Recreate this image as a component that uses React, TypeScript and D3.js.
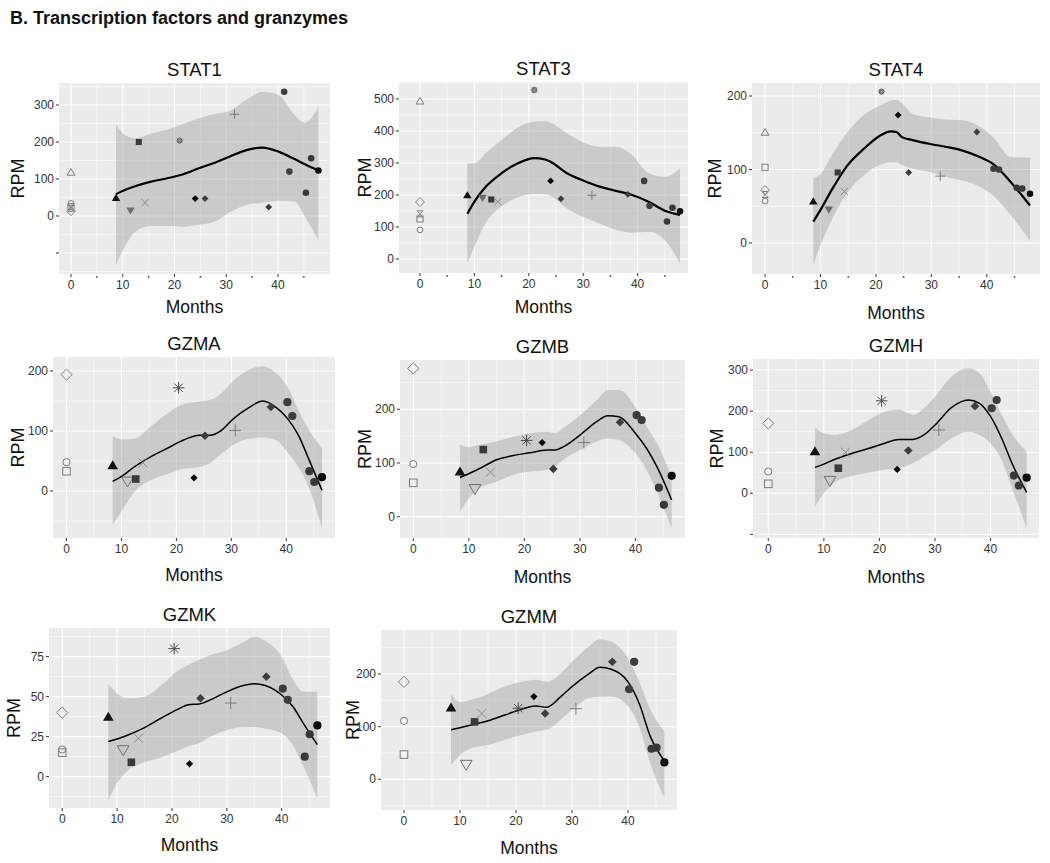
import * as d3 from 'd3';

// Transcription factors and granzymes: RPM over months, loess fit with 95% band

// months of the 14 patient samples (controls sit at month 0)
const statMonths = [8.7, 11.5, 13.1, 14.3, 21.0, 24.0, 25.9, 31.6, 38.2, 41.2, 42.2, 45.4, 46.4, 47.8];
const gzmMonths = [8.4, 11.1, 12.6, 13.9, 20.4, 23.2, 25.2, 30.7, 37.2, 40.2, 41.1, 44.2, 45.1, 46.5];

const statShapes = ['triangle', 'triDownFilled', 'square', 'x', 'asteriskDot', 'diamond', 'diamond', 'plus', 'diamond', 'circle', 'circle', 'circle', 'circle', 'circle'];
const gzmShapes = ['triangle', 'triDown', 'square', 'x', 'asterisk', 'diamondSmall', 'diamond', 'plus', 'diamond', 'circle', 'circle', 'circle', 'circle', 'circle'];
const patientTones = ['#111111', '#6e6e6e', '#3a3a3a', '#8a8a8a', '#4a4a4a', '#050505', '#3d3d3d', '#7a7a7a', '#3d3d3d', '#3d3d3d', '#3d3d3d', '#383838', '#383838', '#0d0d0d'];
const statControlShapes = ['triangleOpen', 'diamondOpen', 'hourglass', 'squareOpen', 'circleOpen'];
const gzmControlShapes = ['diamondOpen', 'circleOpen', 'squareOpen'];
const controlTone = '#7d7d7d';

// RPM of patient samples
const stat1Values = [48, 16, 200, 36, 204, 47, 47, 275, 24, 336, 120, 63, 156, 123];
const stat3Values = [198, 192, 186, 179, 528, 244, 188, 199, 202, 244, 166, 117, 160, 149];
const stat4Values = [56, 46, 96, 70, 206, 174, 96, 91, 151, 101, 100, 75, 74, 67];
const gzmaValues = [42, 17, 20, 47, 172, 22, 92, 101, 140, 148, 125, 33, 15, 23];
const gzmbValues = [83, 53, 125, 83, 142, 138, 89, 138, 176, 189, 180, 54, 22, 76];
const gzmhValues = [101, 32, 61, 100, 225, 58, 104, 154, 212, 207, 227, 43, 19, 38];
const gzmkValues = [37, 17, 9, 24, 80, 8, 49, 46, 62.5, 55, 48, 12.5, 26.5, 32];
const gzmmValues = [135, 29, 109, 125, 135, 157, 125, 134, 223, 171, 223, 58, 60, 32];

// RPM of controls at month 0
const stat1Controls = [117, 13, 21, 25, 34];
const stat3Controls = [492, 178, 141, 125, 91];
const stat4Controls = [150, 72, 66, 103, 57];
const gzmaControls = [194, 48, 33];
const gzmbControls = [276, 98, 63];
const gzmhControls = [170, 53, 23];
const gzmkControls = [40, 17, 15];
const gzmmControls = [185, 111, 47];

// smooth fit and confidence band, read along each panel's month grid
const stat1Grid = [8.7, 10.4, 12.5, 15.5, 18.6, 21.7, 24.7, 27.8, 30.9, 33.9, 37.0, 40.1, 43.2, 45.2, 47.8];
const stat1Fit = [59, 70, 81, 93, 102, 113, 129, 144, 162, 178, 185, 174, 154, 140, 123];
const stat1Upper = [249, 219, 210, 223, 234, 249, 264, 276, 286, 314, 336, 327, 273, 252, 295];
const stat1Lower = [-132, -83, -42, -27, -27, -29, -24, -15, 12, 30, 36, 41, 39, -2, -65];

const stat3Grid = [8.7, 10, 12, 15, 18, 21, 23, 24, 27, 30, 33, 36, 39, 42, 45, 47.8];
const stat3Fit = [141, 179, 224, 268, 299, 315, 311, 304, 268, 245, 226, 213, 200, 179, 151, 138];
const stat3Upper = [299, 299, 330, 372, 411, 429, 430, 426, 393, 364, 351, 351, 325, 268, 257, 283];
const stat3Lower = [-14, 39, 111, 164, 193, 203, 202, 197, 158, 132, 111, 91, 82, 85, 59, -14];

const stat4Grid = [8.7, 10.0, 12.0, 14.9, 17.8, 20.7, 22.7, 23.7, 24.7, 26.6, 29.6, 32.5, 35.5, 38.4, 41.4, 44.3, 47.8];
const stat4Fit = [29, 45, 72, 106, 128, 146, 152, 151, 144, 140, 135, 131, 126, 118, 106, 83, 51];
const stat4Upper = [88, 94, 119, 151, 174, 187, 194, 195, 190, 176, 171, 168, 167, 160, 142, 117, 116];
const stat4Lower = [-30, -3, 31, 69, 92, 106, 110, 110, 106, 101, 97, 90, 85, 78, 63, 38, 3];

const gzmaGrid = [8.4, 10.3, 12.3, 15.3, 18.3, 21.3, 24.2, 26.2, 28.2, 30.2, 33.2, 35.7, 38.2, 40.2, 42.2, 44.2, 46.5];
const gzmaFit = [16, 26, 40, 57, 71, 85, 93, 93, 101, 119, 139, 150, 139, 121, 93, 51, 1];
const gzmaUpper = [91, 86, 87, 107, 129, 145, 149, 152, 163, 182, 202, 208, 196, 174, 135, 101, 72];
const gzmaLower = [-56, -30, -2, 18, 28, 37, 40, 47, 62, 76, 87, 89, 84, 65, 40, 4, -63];

const gzmbGrid = [8.4, 10, 12, 15, 18, 21, 24, 25.5, 27, 30, 33, 35, 37, 40, 42, 44, 46.5];
const gzmbFit = [73, 80, 90, 106, 114, 119, 124, 124, 130, 152, 177, 188, 186, 155, 127, 90, 31];
const gzmbUpper = [134, 130, 134, 140, 149, 155, 158, 155, 165, 189, 217, 236, 236, 204, 168, 134, 75];
const gzmbLower = [9, 34, 53, 65, 78, 84, 87, 93, 106, 124, 140, 146, 143, 118, 87, 43, -22];

const gzmhGrid = [8.4, 10, 12, 15, 18, 21, 23.5, 26, 28, 30, 33, 36, 38, 40, 42, 44, 46.5];
const gzmhFit = [63, 71, 83, 97, 109, 122, 131, 131, 142, 166, 209, 227, 219, 187, 134, 69, 2];
const gzmhUpper = [161, 146, 142, 154, 178, 199, 204, 191, 207, 235, 284, 304, 292, 247, 191, 142, 101];
const gzmhLower = [-32, 0, 27, 42, 50, 57, 61, 73, 89, 105, 134, 150, 142, 122, 81, 8, -85];

const gzmkGrid = [8.4, 10, 12, 15, 18, 21, 23, 25, 27, 30, 33, 35, 37, 40, 42, 44, 46.5];
const gzmkFit = [22, 23.5, 26, 30.6, 36.5, 42, 45, 45.4, 48, 53, 57, 58, 57, 51, 44, 33, 20];
const gzmkUpper = [58, 52, 49, 50, 57, 66, 70, 73, 76, 79, 84, 87.5, 85, 75, 61, 53, 53];
const gzmkLower = [-15, -4, 4, 9, 12, 16, 19, 21, 25, 29, 31, 31, 30, 27, 20, 6, -13.5];

const gzmmGrid = [8.4, 10, 12, 15, 18, 21, 23.5, 25.5, 28, 30, 33, 35, 37, 40, 42, 44, 46.5];
const gzmmFit = [94, 98, 103, 111, 122, 133, 139, 137, 157, 176, 200, 213, 209, 185, 144, 81, 35];
const gzmmUpper = [162, 147, 151, 162, 176, 185, 189, 185, 201, 223, 252, 266, 261, 230, 185, 132, 91];
const gzmmLower = [27, 46, 59, 65, 75, 84, 91, 94, 113, 132, 154, 157, 157, 139, 100, 30, -36];

// axis ticks
const monthTicks = [0, 10, 20, 30, 40];
const stat1Ticks = [-100, 0, 100, 200, 300];
const stat1TickLabels = ['', '0', '100', '200', '300'];
const stat3Ticks = [0, 100, 200, 300, 400, 500];
const stat4Ticks = [0, 100, 200];
const gzmaTicks = [0, 100, 200];
const gzmbTicks = [0, 100, 200];
const gzmhTicks = [-100, 0, 100, 200, 300];
const gzmhTickLabels = ['', '0', '100', '200', '300'];
const gzmkTicks = [0, 25, 50, 75];
const gzmmTicks = [0, 100, 200];

const FONT = "'Liberation Sans', Arial, Helvetica, sans-serif";

interface PanelSpec {
  gene: string;
  small: boolean;
  left: number; right: number; top: number; bottom: number;
  xDomain: [number, number];
  yDomain: [number, number];
  yTicks: number[];
  yTickLabels?: string[];
  ylabX: number;
  xlabY: number;
  months: number[];
  shapes: string[];
  values: number[];
  controlShapes: string[];
  controls: number[];
  grid: number[];
  fit: number[];
  upper: number[];
  lower: number[];
}

const panels: PanelSpec[] = [
  { gene: 'STAT1', small: true, left: 59, right: 330, top: 83, bottom: 274, xDomain: [-2.32, 50.05], yDomain: [-156.8, 359.5],
    yTicks: stat1Ticks, yTickLabels: stat1TickLabels, ylabX: 18, xlabY: 313,
    months: statMonths, shapes: statShapes, values: stat1Values, controlShapes: statControlShapes, controls: stat1Controls,
    grid: stat1Grid, fit: stat1Fit, upper: stat1Upper, lower: stat1Lower },
  { gene: 'STAT3', small: true, left: 399, right: 688, top: 82, bottom: 273, xDomain: [-3.86, 49.26], yDomain: [-43.75, 553],
    yTicks: stat3Ticks, ylabX: 365, xlabY: 313,
    months: statMonths, shapes: statShapes, values: stat3Values, controlShapes: statControlShapes, controls: stat3Controls,
    grid: stat3Grid, fit: stat3Fit, upper: stat3Upper, lower: stat3Lower },
  { gene: 'STAT4', small: true, left: 752, right: 1040, top: 83, bottom: 274, xDomain: [-2.36, 49.6], yDomain: [-42.2, 217.7],
    yTicks: stat4Ticks, ylabX: 715, xlabY: 319,
    months: statMonths, shapes: statShapes, values: stat4Values, controlShapes: statControlShapes, controls: stat4Controls,
    grid: stat4Grid, fit: stat4Fit, upper: stat4Upper, lower: stat4Lower },
  { gene: 'GZMA', small: false, left: 53, right: 335, top: 357, bottom: 538, xDomain: [-2.46, 48.87], yDomain: [-78.3, 223.3],
    yTicks: gzmaTicks, ylabX: 18, xlabY: 581,
    months: gzmMonths, shapes: gzmShapes, values: gzmaValues, controlShapes: gzmControlShapes, controls: gzmaControls,
    grid: gzmaGrid, fit: gzmaFit, upper: gzmaUpper, lower: gzmaLower },
  { gene: 'GZMB', small: false, left: 400, right: 685, top: 360, bottom: 538, xDomain: [-2.39, 48.9], yDomain: [-39.7, 291.8],
    yTicks: gzmbTicks, ylabX: 365, xlabY: 583,
    months: gzmMonths, shapes: gzmShapes, values: gzmbValues, controlShapes: gzmControlShapes, controls: gzmbControls,
    grid: gzmbGrid, fit: gzmbFit, upper: gzmbUpper, lower: gzmbLower },
  { gene: 'GZMH', small: false, left: 753, right: 1039, top: 359, bottom: 538, xDomain: [-2.75, 48.72], yDomain: [-108.8, 326.8],
    yTicks: gzmhTicks, yTickLabels: gzmhTickLabels, ylabX: 717, xlabY: 583,
    months: gzmMonths, shapes: gzmShapes, values: gzmhValues, controlShapes: gzmControlShapes, controls: gzmhControls,
    grid: gzmhGrid, fit: gzmhFit, upper: gzmhUpper, lower: gzmhLower },
  { gene: 'GZMK', small: false, left: 49, right: 330, top: 628, bottom: 808, xDomain: [-2.41, 48.8], yDomain: [-19.6, 92.9],
    yTicks: gzmkTicks, ylabX: 14, xlabY: 851,
    months: gzmMonths, shapes: gzmShapes, values: gzmkValues, controlShapes: gzmControlShapes, controls: gzmkControls,
    grid: gzmkGrid, fit: gzmkFit, upper: gzmkUpper, lower: gzmkLower },
  { gene: 'GZMM', small: false, left: 381, right: 677, top: 630, bottom: 810, xDomain: [-4.1, 48.75], yDomain: [-58.3, 283.5],
    yTicks: gzmmTicks, ylabX: 353, xlabY: 854,
    months: gzmMonths, shapes: gzmShapes, values: gzmmValues, controlShapes: gzmControlShapes, controls: gzmmControls,
    grid: gzmmGrid, fit: gzmmFit, upper: gzmmUpper, lower: gzmmLower },
];

// ggplot-like point glyphs
function Marker({ shape, x, y, color, s }: { shape: string; x: number; y: number; color: string; s: number }) {
  const sw = 1;
  const tri = (h: number, down: boolean) => {
    const d = down ? -1 : 1;
    return `M${x},${y - d * h}L${x - h * 0.95},${y + d * h * 0.6}L${x + h * 0.95},${y + d * h * 0.6}Z`;
  };
  const dia = (h: number) => `M${x},${y - h}L${x + h},${y}L${x},${y + h}L${x - h},${y}Z`;
  switch (shape) {
    case 'circle':
      return <circle cx={x} cy={y} r={4.1 * s} fill={color} />;
    case 'circleOpen':
      return <circle cx={x} cy={y} r={3.6 * s} fill="none" stroke={color} strokeWidth={sw} />;
    case 'square':
      return <rect x={x - 3.8 * s} y={y - 3.8 * s} width={7.6 * s} height={7.6 * s} fill={color} />;
    case 'squareOpen':
      return <rect x={x - 3.8 * s} y={y - 3.8 * s} width={7.6 * s} height={7.6 * s} fill="none" stroke={color} strokeWidth={sw} />;
    case 'diamond':
      return <path d={dia(4.3 * s)} fill={color} />;
    case 'diamondSmall':
      return <path d={dia(3.6 * s)} fill={color} />;
    case 'diamondOpen':
      return <path d={dia(5.6 * s)} fill="none" stroke={color} strokeWidth={sw} />;
    case 'triangle':
      return <path d={tri(5.6 * s, false)} fill={color} />;
    case 'triangleOpen':
      return <path d={tri(5.2 * s, false)} fill="none" stroke={color} strokeWidth={sw} />;
    case 'triDown':
      return <path d={tri(6.2 * s, true)} fill="none" stroke={color} strokeWidth={sw} />;
    case 'triDownFilled':
      return <path d={tri(5.6 * s, true)} fill={color} />;
    case 'x': {
      const h = 4.6 * s;
      return <path d={`M${x - h},${y - h}L${x + h},${y + h}M${x - h},${y + h}L${x + h},${y - h}`} stroke={color} strokeWidth={sw} />;
    }
    case 'plus': {
      const h = 6 * s;
      return <path d={`M${x - h},${y}L${x + h},${y}M${x},${y - h}L${x},${y + h}`} stroke={color} strokeWidth={sw} />;
    }
    case 'asterisk': {
      const h = 5.8 * s;
      const q = h * 0.707;
      return <path d={`M${x - h},${y}L${x + h},${y}M${x},${y - h}L${x},${y + h}M${x - q},${y - q}L${x + q},${y + q}M${x - q},${y + q}L${x + q},${y - q}`} stroke={color} strokeWidth={sw} />;
    }
    case 'asteriskDot': {
      const h = 4.6 * s;
      const q = h * 0.707;
      return (
        <g>
          <circle cx={x} cy={y} r={3.6 * s} fill="#555" />
          <path d={`M${x - h},${y}L${x + h},${y}M${x},${y - h}L${x},${y + h}M${x - q},${y - q}L${x + q},${y + q}M${x - q},${y + q}L${x + q},${y - q}`} stroke="#999" strokeWidth={0.8} />
        </g>
      );
    }
    case 'hourglass': {
      const h = 3.8 * s;
      return <path d={`M${x - h},${y - h}L${x + h},${y - h}L${x - h},${y + h}L${x + h},${y + h}Z`} fill="none" stroke={color} strokeWidth={sw} />;
    }
    default:
      return null;
  }
}

function Panel({ p, idx }: { p: PanelSpec; idx: number }) {
  const x = d3.scaleLinear().domain(p.xDomain).range([p.left, p.right]);
  const y = d3.scaleLinear().domain(p.yDomain).range([p.bottom, p.top]);
  const s = p.small ? 0.8 : 1;

  const step = p.yTicks[1] - p.yTicks[0];
  const yMinor: number[] = [];
  for (let v = p.yTicks[0] - step / 2; v <= p.yDomain[1]; v += step) {
    if (v >= p.yDomain[0]) yMinor.push(v);
  }
  const xMinor = monthTicks.map(t => t + 5).filter(t => t <= p.xDomain[1]);

  const rows = p.grid.map((m, i) => ({ m, fit: p.fit[i], hi: p.upper[i], lo: p.lower[i] }));
  const area = d3.area<typeof rows[0]>()
    .x(d => x(d.m)).y0(d => y(d.lo)).y1(d => y(d.hi))
    .curve(d3.curveMonotoneX);
  const line = d3.line<typeof rows[0]>()
    .x(d => x(d.m)).y(d => y(d.fit))
    .curve(d3.curveMonotoneX);

  const clipId = `clip-${idx}`;
  const cx = (p.left + p.right) / 2;
  const cy = (p.top + p.bottom) / 2;

  return (
    <g>
      <defs>
        <clipPath id={clipId}>
          <rect x={p.left} y={p.top} width={p.right - p.left} height={p.bottom - p.top} />
        </clipPath>
      </defs>
      <rect x={p.left} y={p.top} width={p.right - p.left} height={p.bottom - p.top} fill="#EBEBEB" />
      {yMinor.map(v => (
        <line key={`ym${v}`} x1={p.left} x2={p.right} y1={y(v)} y2={y(v)} stroke="#fff" strokeWidth={0.55} />
      ))}
      {xMinor.map(v => (
        <line key={`xm${v}`} x1={x(v)} x2={x(v)} y1={p.top} y2={p.bottom} stroke="#fff" strokeWidth={0.55} />
      ))}
      {p.yTicks.map(v => (
        <line key={`yg${v}`} x1={p.left} x2={p.right} y1={y(v)} y2={y(v)} stroke="#fff" strokeWidth={1.1} />
      ))}
      {monthTicks.map(v => (
        <line key={`xg${v}`} x1={x(v)} x2={x(v)} y1={p.top} y2={p.bottom} stroke="#fff" strokeWidth={1.1} />
      ))}

      <g clipPath={`url(#${clipId})`}>
        <path d={area(rows) || ''} fill="#999999" fillOpacity={0.4} />
        <path d={line(rows) || ''} fill="none" stroke="#000" strokeWidth={p.small ? 2.2 : 1.5} />
      </g>

      {p.controls.map((v, i) => (
        <Marker key={`c${i}`} shape={p.controlShapes[i]} x={x(0)} y={y(v)} color={controlTone} s={s} />
      ))}
      {p.values.map((v, i) => (
        <Marker key={`p${i}`} shape={p.shapes[i]} x={x(p.months[i])} y={y(v)} color={patientTones[i]} s={s} />
      ))}

      {/* axes */}
      {p.yTicks.map((v, i) => (
        <g key={`yt${v}`}>
          <line x1={p.left - 3} x2={p.left} y1={y(v)} y2={y(v)} stroke="#333" strokeWidth={1} />
          <text x={p.left - 5} y={y(v)} dy="0.35em" textAnchor="end" fontSize={12} fill="#333" fontFamily={FONT}>
            {p.yTickLabels ? p.yTickLabels[i] : String(v)}
          </text>
        </g>
      ))}
      {monthTicks.map(v => (
        <g key={`xt${v}`}>
          <line x1={x(v)} x2={x(v)} y1={p.bottom} y2={p.bottom + 3} stroke="#333" strokeWidth={1} />
          <text x={x(v)} y={p.bottom + 15} textAnchor="middle" fontSize={12} fill="#333" fontFamily={FONT}>{v}</text>
        </g>
      ))}
      {p.small && xMinor.map(v => (
        <circle key={`xd${v}`} cx={x(v)} cy={p.bottom + 3} r={0.9} fill="#555" />
      ))}

      <text x={cx} y={p.top - 7} textAnchor="middle" fontSize={18.5} fill="#111" fontFamily={FONT}>{p.gene}</text>
      <text x={cx} y={p.xlabY} textAnchor="middle" fontSize={17.5} fill="#111" fontFamily={FONT}>Months</text>
      <text transform={`translate(${p.ylabX},${cy}) rotate(-90)`} textAnchor="middle" dy="0.35em" fontSize={18} fill="#111" fontFamily={FONT}>RPM</text>
    </g>
  );
}

export default function App() {
  return (
    <div style={{ position: 'absolute', left: 0, top: 0, width: 1050, height: 863, background: '#fff' }}>
      <svg width={1050} height={863} viewBox="0 0 1050 863" style={{ display: 'block' }}>
        <rect width={1050} height={863} fill="#fff" />
        <text x={10} y={24} fontSize={18} fontWeight="bold" fill="#111" fontFamily={FONT}>
          B. Transcription factors and granzymes
        </text>
        {panels.map((p, i) => <Panel key={p.gene} p={p} idx={i} />)}
      </svg>
    </div>
  );
}
